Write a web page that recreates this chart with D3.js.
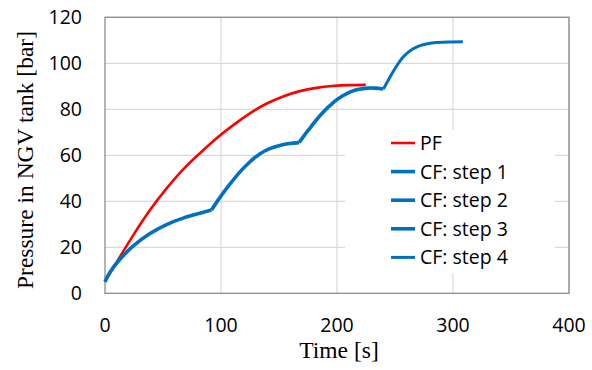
<!DOCTYPE html>
<html>
<head>
<meta charset="utf-8">
<script src="https://cdn.jsdelivr.net/npm/d3@7"></script>
<style>
  body { margin: 0; background: #fff; }
</style>
</head>
<body>
<script>
const w = 592,
  h = 370;

// time [s], pressure [bar]
const pfTime = [0, 4.3, 12.9, 24.4, 38.8, 53.1, 67.4, 81.8, 96.2, 110, 124.9, 139, 153.6, 168, 182.3, 196, 210, 224.8];
const pfPressure = [5, 8.7, 15.9, 25.3, 36.2, 45.6, 53.9, 60.9, 67.4, 72.9, 78.2, 82.4, 85.6, 87.9, 89.3, 90.1, 90.5, 90.6];

const cf1Time = [0, 4.3, 12.9, 24.4, 38.8, 53.1, 67.4, 81.8, 91.8];
const cf1Pressure = [5, 9.2, 14.8, 20.6, 26.0, 29.9, 32.7, 34.8, 36.2];

const cf2Time = [91.8, 99, 107, 116, 125, 133.4, 142, 150.7, 159, 167.3];
const cf2Pressure = [36.2, 41.6, 47.0, 52.6, 57.2, 60.6, 62.9, 64.3, 65.1, 65.5];

const cf3Time = [167.3, 172, 177.6, 186.2, 197.7, 205, 212, 219, 226.4, 233, 240];
const cf3Pressure = [65.5, 68.8, 72.4, 77.7, 83.3, 85.9, 87.7, 88.7, 89.2, 89.2, 88.8];

const cf4Time = [240, 245, 250, 255, 260, 265, 271, 278, 285.6, 297, 308.5];
const cf4Pressure = [88.8, 93.4, 97.7, 101.5, 104.2, 106.1, 107.6, 108.5, 109.0, 109.3, 109.4];

const legendLabels = ['PF', 'CF: step 1', 'CF: step 2', 'CF: step 3', 'CF: step 4'];
const xTicks = [0, 100, 200, 300, 400];
const yTicks = [0, 20, 40, 60, 80, 100, 120];

const red = '#ff0000',
  blue = '#0070c0';

const x = d3.scaleLinear().domain([0, 400]).range([105, 569]);
const y = d3.scaleLinear().domain([0, 120]).range([293.3, 17.3]);

const svg = d3.select('body')
  .append('svg')
  .attr('width', w)
  .attr('height', h);

// gridlines
svg.append('g')
  .selectAll('line')
  .data(yTicks.slice(1))
  .enter()
  .append('line')
  .attr('x1', x(0))
  .attr('x2', x(400))
  .attr('y1', d => y(d))
  .attr('y2', d => y(d))
  .attr('stroke', '#d9d9d9')
  .attr('stroke-width', 1.2);

svg.append('g')
  .selectAll('line')
  .data(xTicks.slice(1))
  .enter()
  .append('line')
  .attr('x1', d => x(d))
  .attr('x2', d => x(d))
  .attr('y1', y(0))
  .attr('y2', y(120))
  .attr('stroke', '#d9d9d9')
  .attr('stroke-width', 1.2);

// plot border
svg.append('rect')
  .attr('x', x(0))
  .attr('y', y(120))
  .attr('width', x(400) - x(0))
  .attr('height', y(0) - y(120))
  .attr('fill', 'none')
  .attr('stroke', '#8c8c8c')
  .attr('stroke-width', 1.3);

// tick labels
const tickFont = '"Open Sans", sans-serif';
svg.append('g')
  .selectAll('text')
  .data(yTicks)
  .enter()
  .append('text')
  .text(d => d)
  .attr('x', 82)
  .attr('y', d => y(d))
  .attr('dy', '0.36em')
  .attr('text-anchor', 'end')
  .attr('font-family', tickFont)
  .attr('font-size', '19.5px')
  .attr('fill', '#000');

svg.append('g')
  .selectAll('text')
  .data(xTicks)
  .enter()
  .append('text')
  .text(d => d)
  .attr('x', d => x(d))
  .attr('y', 325)
  .attr('dy', '0.36em')
  .attr('text-anchor', 'middle')
  .attr('font-family', tickFont)
  .attr('font-size', '19.5px')
  .attr('fill', '#000');

// axis titles
svg.append('text')
  .text('Time [s]')
  .attr('x', 339)
  .attr('y', 358)
  .attr('text-anchor', 'middle')
  .attr('font-family', '"Liberation Serif", serif')
  .attr('font-size', '23.5px')
  .attr('fill', '#000');

svg.append('text')
  .text('Pressure in NGV tank [bar]')
  .attr('transform', 'translate(33,160) rotate(-90)')
  .attr('text-anchor', 'middle')
  .attr('font-family', '"Liberation Serif", serif')
  .attr('font-size', '23.5px')
  .attr('fill', '#000');

// series
const series = [
  { t: pfTime, p: pfPressure, color: red, width: 2.6 },
  { t: cf1Time, p: cf1Pressure, color: blue, width: 3.6 },
  { t: cf2Time, p: cf2Pressure, color: blue, width: 3.6 },
  { t: cf3Time, p: cf3Pressure, color: blue, width: 3.6 },
  { t: cf4Time, p: cf4Pressure, color: blue, width: 3.0 }
];

const line = d3.line()
  .x(d => x(d[0]))
  .y(d => y(d[1]))
  .curve(d3.curveNatural);

svg.append('g')
  .selectAll('path')
  .data(series)
  .enter()
  .append('path')
  .attr('d', s => line(s.t.map((t, i) => [t, s.p[i]])))
  .attr('fill', 'none')
  .attr('stroke', s => s.color)
  .attr('stroke-width', s => s.width)
  .attr('stroke-linejoin', 'round');

// legend
const legend = svg.append('g');
legend.append('rect')
  .attr('x', 345)
  .attr('y', 130)
  .attr('width', 210)
  .attr('height', 143)
  .attr('fill', '#fff');

const items = legend.selectAll('g.item')
  .data(series)
  .enter()
  .append('g')
  .attr('class', 'item')
  .attr('transform', (_, i) => `translate(0, ${143 + i * 28.6})`);

items.append('line')
  .attr('x1', 391)
  .attr('x2', 415)
  .attr('stroke', s => s.color)
  .attr('stroke-width', s => s.width);

items.append('text')
  .text((_, i) => legendLabels[i])
  .attr('x', 420)
  .attr('dy', '0.36em')
  .attr('font-family', tickFont)
  .attr('font-size', '19.5px')
  .attr('fill', '#000');
</script>
</body>
</html>
